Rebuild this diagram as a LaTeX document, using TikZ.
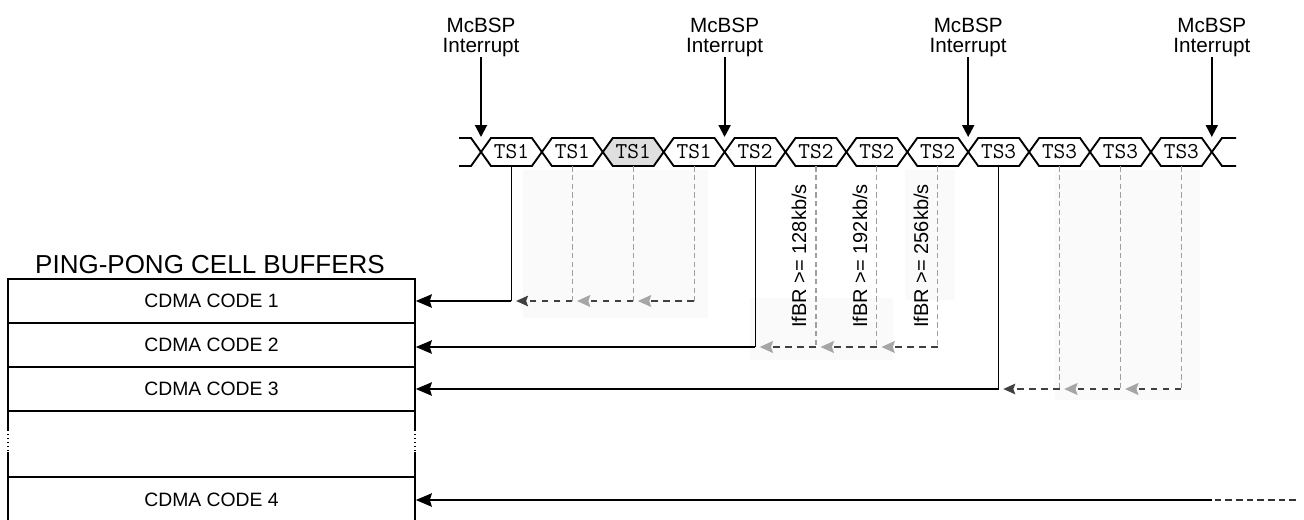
\documentclass[tikz,border=0pt]{standalone}
\usepackage{fontspec}
\setmainfont{Liberation Sans}
\usetikzlibrary{arrows.meta}
\begin{document}
\begin{tikzpicture}[x=0.75pt,y=-0.75pt,
  hex/.style={line width=1.4pt,line join=miter},
  tslabel/.style={font=\ttfamily\fontsize{17}{17}\selectfont,inner sep=0pt,minimum width=30pt,minimum height=21pt},
  intlabel/.style={font=\fontsize{15.5}{15}\selectfont,align=center,inner sep=0pt},
  intarrow/.style={line width=1.5pt,-{Triangle[length=9pt,width=9pt]}},
  buf/.style={draw,line width=1.2pt,minimum width=305.25pt,minimum height=33pt,inner sep=0pt,font=\fontsize{14.5}{15}\selectfont},
  bufline/.style={line width=1.2pt},
  solidv/.style={line width=0.7pt},
  thickarrow/.style={line width=1.6pt,-{Stealth[length=12pt,width=10pt,inset=1.5pt]}},
  dashv/.style={gray!75,line width=0.9pt,dash pattern=on 4pt off 2.5pt},
  dashh/.style={black!75,line width=0.9pt,dash pattern=on 5pt off 4pt,-{Stealth[length=10pt,width=9pt,inset=1.5pt,color=gray!70,fill=gray!70]}},
  dashhk/.style={black!75,line width=0.9pt,dash pattern=on 5pt off 4pt,-{Stealth[length=9pt,width=8pt,inset=1.5pt]}},
  ratelabel/.style={rotate=90,font=\fontsize{15}{15}\selectfont,inner sep=0pt},
  faint/.style={fill=black!2,draw=none}]
\useasboundingbox (0,0) rectangle (1304,519);

% faint scanned shading
\path[faint] (523,170) rectangle (708,318);
\path[faint] (1055,170) rectangle (1200,400);
\path[faint] (750,298) rectangle (893,360);
\path[faint] (905,170) rectangle (955,300);

% timing diagram cells
\fill[gray!25] ({481+60.9*2},152) -- ({481+60.9*2+10},138) -- ({481+60.9*3-10},138) -- ({481+60.9*3},152) -- ({481+60.9*3-10},166) -- ({481+60.9*2+10},166) -- cycle;
\foreach \i in {1,...,12} {
  \pgfmathsetmacro\a{481+60.9*(\i-1)}
  \pgfmathsetmacro\b{481+60.9*\i}
  \draw[hex] (\a,152) -- ({\a+10},138) -- ({\b-10},138) -- (\b,152) -- ({\b-10},166) -- ({\a+10},166) -- cycle;
  \pgfmathtruncatemacro\k{int((\i-1)/4)+1}
  \node[tslabel] (t\i) at ({481+60.9*(\i-0.5)},152) {TS\k};
}
\draw[hex] (459,138) -- (471,138) -- (481,152) -- (471,166) -- (459,166);
\draw[hex] (1236,138) -- (1222,138) -- (1211.8,152) -- (1222,166) -- (1236,166);

% interrupts
\coordinate (x1) at (481,137);
\coordinate (x2) at (724.6,137);
\coordinate (x3) at (968.2,137);
\coordinate (x4) at (1211.8,137);
\foreach \j/\xx in {1/481,2/724.6,3/968.2,4/1211.8} {
  \node[intlabel,anchor=south] (i\j) at (\xx,57) {McBSP\\Interrupt};
  \draw[intarrow] (i\j.south) -- (x\j);
}

% buffers
\node[font=\fontsize{19.5}{20}\selectfont,inner sep=0pt] (title) at (210,265) {PING-PONG CELL BUFFERS};
\node[buf] (b1) at (211.5,301) {CDMA CODE 1};
\node[buf] (b2) at (211.5,345) {CDMA CODE 2};
\node[buf] (b3) at (211.5,389) {CDMA CODE 3};
\node[buf,minimum height=34.5pt] (b4) at (211.5,500) {CDMA CODE 4};
\draw[bufline] (8,411) -- (8,430) (8,452) -- (8,477);
\draw[bufline] (415,411) -- (415,430) (415,452) -- (415,477);
\draw[line width=1pt,dotted] (8,430) -- (8,452) (415,430) -- (415,452);

% row 1
\draw[solidv] (t1.south) -- (t1.south |- b1.east) coordinate (r1);
\draw[thickarrow] (r1) -- (b1.east);
\draw[dashv] (t2.south) -- (t2.south |- b1.east) coordinate (d2);
\draw[dashv] (t3.south) -- (t3.south |- b1.east) coordinate (d3);
\draw[dashv] (t4.south) -- (t4.south |- b1.east) coordinate (d4);
\draw[dashh] (d4) -- ([xshift=3.5pt]d3);
\draw[dashh] (d3) -- ([xshift=3.5pt]d2);
\draw[dashhk] (d2) -- ([xshift=3.5pt]r1);

% row 2
\draw[solidv] (t5.south) -- (t5.south |- 0,347) coordinate (r2);
\draw[thickarrow] (r2) -- (r2 -| b2.east);
\draw[dashv] (t6.south) -- (t6.south |- r2) coordinate (d6);
\draw[dashv] (t7.south) -- (t7.south |- r2) coordinate (d7);
\draw[dashv] (t8.south) -- (t8.south |- r2) coordinate (d8);
\draw[dashh] (d8) -- ([xshift=3.5pt]d7);
\draw[dashh] (d7) -- ([xshift=3.5pt]d6);
\draw[dashh] (d6) -- ([xshift=3.5pt]r2);

% row 3
\draw[solidv] (t9.south) -- (t9.south |- b3.east) coordinate (r3);
\draw[thickarrow] (r3) -- (b3.east);
\draw[dashv] (t10.south) -- (t10.south |- b3.east) coordinate (d10);
\draw[dashv] (t11.south) -- (t11.south |- b3.east) coordinate (d11);
\draw[dashv] (t12.south) -- (t12.south |- b3.east) coordinate (d12);
\draw[dashh] (d12) -- ([xshift=3.5pt]d11);
\draw[dashh] (d11) -- ([xshift=3.5pt]d10);
\draw[dashhk] (d10) -- ([xshift=3.5pt]r3);

% row 4
\coordinate (s4) at (1212,500);
\coordinate (e4) at (1296,500);
\draw[thickarrow] (s4) -- (b4.east);
\draw[black!80,line width=1.2pt,dash pattern=on 5pt off 3pt] (e4) -- (s4);

% rate labels
\node[ratelabel] (l1) at (799,256) {IfBR >= 128kb/s};
\node[ratelabel] (l2) at (860,256) {IfBR >= 192kb/s};
\node[ratelabel] (l3) at (921,256) {IfBR >= 256kb/s};
\end{tikzpicture}
\end{document}
